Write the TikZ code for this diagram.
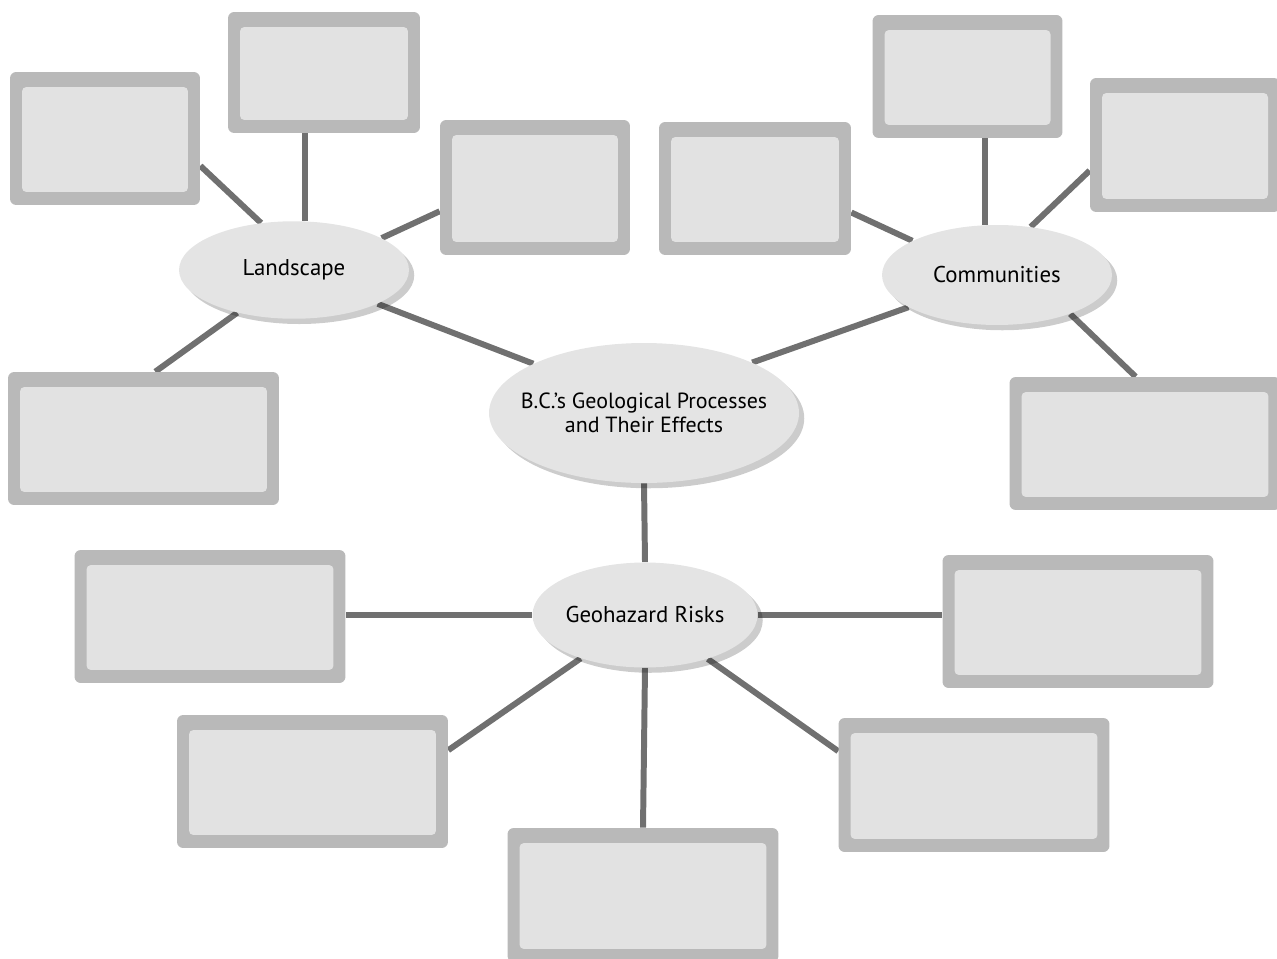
\documentclass[tikz,border=0pt]{standalone}
\usepackage{fontspec}
\setmainfont{PT Sans}
\usetikzlibrary{shapes.geometric,shadows,backgrounds}

\definecolor{boxout}{HTML}{B9B9B9}
\definecolor{boxin}{HTML}{E2E2E2}
\definecolor{topicfill}{HTML}{E4E4E4}
\definecolor{linkgray}{HTML}{707070}

\begin{document}
\begin{tikzpicture}[x=0.02cm,y=-0.02cm,
    answer/.style={fill=boxout,rounded corners=3.5pt,inner sep=0pt,
      minimum width=3.8cm,minimum height=2.66cm,
      path picture={\fill[boxin,rounded corners=2.5pt]
        ([shift={(0.24cm,0.26cm)}]path picture bounding box.south west) rectangle
        ([shift={(-0.24cm,-0.3cm)}]path picture bounding box.north east);}},
    widebox/.style={answer,minimum width=5.42cm},
    topic/.style={ellipse,fill=topicfill,inner sep=0pt,
      minimum width=4.6cm,minimum height=1.95cm,
      font=\fontsize{13}{14}\selectfont,
      drop shadow={shadow xshift=3pt,shadow yshift=-3pt,fill=black,opacity=0.2}},
    link/.style={draw=linkgray,line width=3.4pt}]
  \useasboundingbox (0,0) rectangle (1277,959);

  % topics
  \node[topic] (land) at (294,270) {Landscape};
  \node[topic,minimum width=6.2cm,minimum height=2.8cm,inner xsep=-8pt,align=center,
        font=\fontsize{12.5}{14}\selectfont] (core) at (644,413)
        {B.C.'s Geological Processes\\and Their Effects};
  \node[topic,minimum height=2cm] (comm) at (997,275) {Communities};
  \node[topic,minimum width=4.5cm,minimum height=2.1cm] (geo) at (645,615) {Geohazard Risks};

  % empty boxes round Landscape
  \node[answer] (L1) at (105,138.5) {};
  \node[answer,minimum width=3.84cm,minimum height=2.42cm] (L2) at (324,72.5) {};
  \node[answer,minimum height=2.7cm] (L3) at (535,187.5) {};
  \node[widebox] (L4) at (143.5,438.5) {};

  % empty boxes round Communities
  \node[answer,minimum width=3.84cm] (C1) at (755,188.5) {};
  \node[answer,minimum height=2.46cm] (C2) at (967.5,76.5) {};
  \node[answer,minimum height=2.68cm] (C3) at (1185,145) {};
  \node[widebox] (C4) at (1145,443.5) {};

  % empty boxes round Geohazard Risks
  \node[widebox] (G1) at (210,616.5) {};
  \node[widebox] (G2) at (1078,621.5) {};
  \node[widebox] (G3) at (312.5,781.5) {};
  \node[widebox,minimum height=2.68cm] (G4) at (974,785) {};
  \node[widebox,minimum height=2.68cm] (G5) at (643,895) {};

  \begin{pgfonlayer}{background}
    \draw[link] (land.-22) -- (core.156);
    \draw[link] (comm.-160) -- (core.25);
    \draw[link] (core.south) -- (geo.north);

    \draw[link] (land.125) -- (L1.-16);
    \draw[link] (land.77) -- (land.77 |- L2.south);
    \draw[link] (land.20) -- (L3.-166);
    \draw[link] (land.-143) -- (L4.80);

    \draw[link] (comm.158) -- (C1.-14);
    \draw[link] (comm.104) -- (comm.104 |- C2.south);
    \draw[link] (comm.55) -- (C3.-165);
    \draw[link] (comm.-28) -- (C4.98);

    \draw[link] (geo.west) -- (geo.west -| G1.east);
    \draw[link] (geo.east) -- (geo.east -| G2.west);
    \draw[link] (geo.-146) -- (G3.13);
    \draw[link] (geo.-35) -- (G4.166);
    \draw[link] (geo.south) -- (G5.north);
  \end{pgfonlayer}
\end{tikzpicture}
\end{document}
